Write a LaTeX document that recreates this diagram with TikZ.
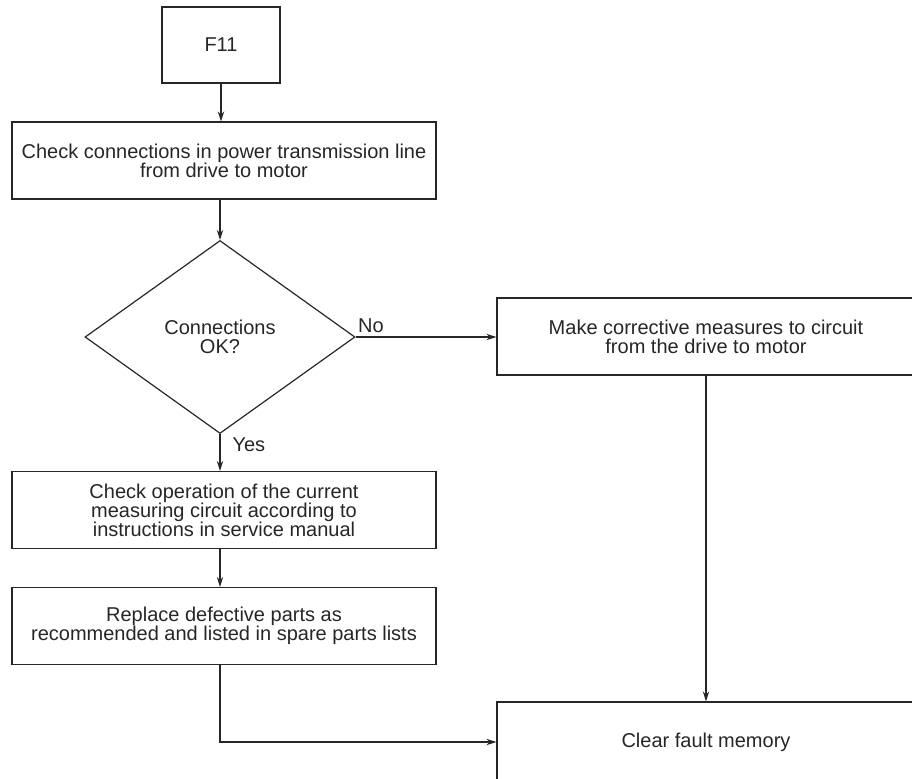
\documentclass[tikz,border=0pt]{standalone}
\usepackage{fontspec}
\setmainfont{Liberation Sans}
\usepackage{tikz}
\usetikzlibrary{positioning, arrows.meta, shapes.geometric}
\tikzset{
    schritt/.style = {draw=black!85, rectangle, align=center, inner sep=2pt,
                      text=black!85, font=\fontsize{10pt}{9.5pt}\selectfont},
    frage/.style   = {schritt, diamond, inner sep=0pt,
                      minimum width=135pt, minimum height=96.5pt},
    pfeil/.style   = {-{Stealth[length=5pt, width=3.2pt]}, draw=black!85},
    antwort/.style = {font=\fontsize{10pt}{10pt}\selectfont, text=black!85, inner sep=1pt}
}

\begin{document}
\begin{tikzpicture}[x=0.5pt, y=-0.5pt, line width=0.6pt,
        links/.style  = {schritt, minimum width=212pt, minimum height=38.5pt},
        rechts/.style = {schritt, minimum width=209pt, minimum height=38.5pt}]

    \clip (0,0) rectangle (912,778);

    % --- linke Spalte ---
    \node[schritt, minimum width=59pt, minimum height=38pt] (f11) at (221,45) {F11};
    \node[links] (pruef)  at (224,160.5) {Check connections in power transmission line\\from drive to motor};
    \node[frage] (ok)     at (220,337)   {Connections\\OK?};
    \node[links] (mess)   at (224,510)   {Check operation of the current\\measuring circuit according to\\instructions in service manual};
    \node[links] (ersatz) at (224,626)   {Replace defective parts as\\recommended and listed in spare parts lists};

    % --- rechte Spalte ---
    \node[rechts] (korr) at (706,336.5) {Make corrective measures to circuit\\from the drive to motor};
    \node[rechts, minimum height=40pt] (clr) at (706,742) {Clear fault memory};

    % --- Verbindungen ---
    \draw[pfeil] (f11) -- (f11 |- pruef.north);
    \draw[pfeil] (pruef.south -| ok) -- (ok.north);
    \draw[pfeil] (ok.east) -- (ok.east -| korr.west)
        node[antwort, pos=0, above right, yshift=1pt] {No};
    \draw[pfeil] (ok.south) -- (ok.south |- mess.north)
        node[antwort, pos=0.3, right=5pt] {Yes};
    \draw[pfeil] (mess.south -| ok) -- (ersatz.north -| ok);
    \draw[pfeil] (ersatz.south -| ok) |- (clr.west);
    \draw[pfeil] (korr.south) -- (clr.north);
\end{tikzpicture}
\end{document}
